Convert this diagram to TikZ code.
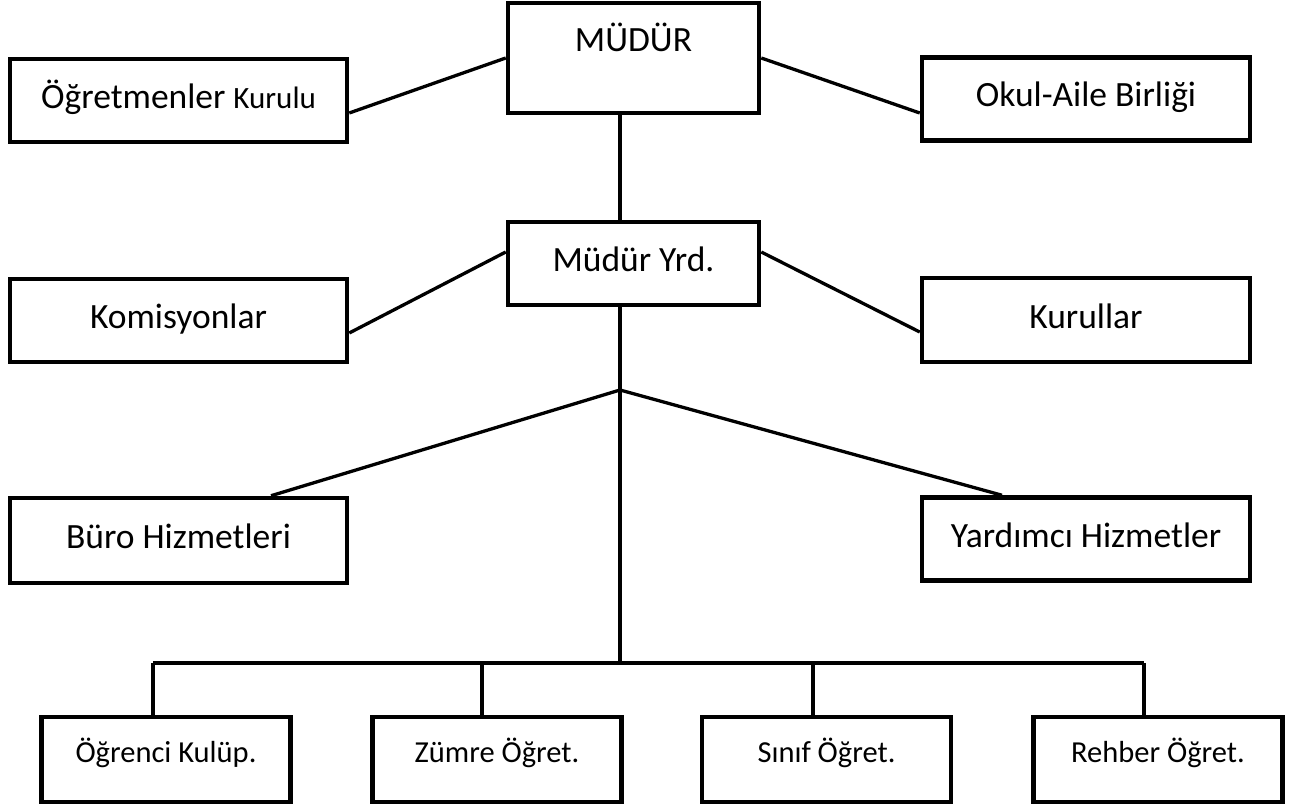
\documentclass[tikz,border=0pt]{standalone}
\usepackage{fontspec}
\setmainfont{Carlito}
\usepackage{tikz}
\usetikzlibrary{positioning}

\begin{document}
\begin{tikzpicture}[
    x=1pt, y=-1pt,
    line width=3.3pt,
    box/.style={rectangle, draw, line width=4.5pt, inner sep=0pt,
      minimum height=83pt, text height=26pt, text depth=10pt,
      font=\fontsize{35.5}{40}\selectfont},
    sidebox/.style={box, minimum width=337pt},
    rightbox/.style={box, minimum width=328pt},
    midbox/.style={box, minimum width=251pt},
    unitbox/.style={box, minimum width=249pt, minimum height=85pt,
      text height=22pt, text depth=17pt,
      font=\fontsize{30.5}{34}\selectfont}
]
  \useasboundingbox (0,0) rectangle (1299,805);

  % nodes
  \node[midbox, minimum height=110pt, text height=25pt, text depth=37pt] (mudur) at (633.5,58) {MÜDÜR};
  \node[midbox] (yrd) at (633.5,263.5) {Müdür Yrd.};

  \node[sidebox] (ogrkurul) at (178.5,100.5) {Öğretmenler {\fontsize{31}{34}\selectfont Kurulu}};
  \node[sidebox] (komisyon) at (178.5,320.5) {Komisyonlar};
  \node[sidebox, minimum height=85pt] (buro) at (178.5,540.5) {Büro Hizmetleri};

  \node[rightbox] (okul) at (1086,99) {Okul-Aile Birliği};
  \node[rightbox, minimum height=84pt] (kurullar) at (1086,320) {Kurullar};
  \node[rightbox] (yardimci) at (1086,539) {Yardımcı Hizmetler};

  \node[unitbox] (k1) at (166,759.5) {Öğrenci Kulüp.};
  \node[unitbox] (k2) at (497,759.5) {Zümre Öğret.};
  \node[unitbox] (k3) at (826.5,759.5) {Sınıf Öğret.};
  \node[unitbox] (k4) at (1158,759.5) {Rehber Öğret.};

  \coordinate (fork) at (620,390);
  \coordinate (bar) at (620,663);
  \coordinate (d1) at (153,663);
  \coordinate (d2) at (482,663);
  \coordinate (d3) at (813,663);
  \coordinate (d4) at (1144,663);

  % edges
  \draw (mudur.west) -- ([yshift=-12.5pt]ogrkurul.east);
  \draw (mudur.east) -- ([yshift=-14pt]okul.west);
  \draw (mudur.south -| fork) -- (yrd.north -| fork);
  \draw ([yshift=11.5pt]yrd.west) -- ([yshift=-12.5pt]komisyon.east);
  \draw ([yshift=11.5pt]yrd.east) -- ([yshift=-12pt]kurullar.west);
  \draw (yrd.south -| fork) -- (bar);
  \draw (fork) -- ([xshift=92.5pt]buro.north);
  \draw (fork) -- ([xshift=-84pt]yardimci.north);
  \draw (d1) -- (d4);
  \foreach \i in {1,...,4}
    \draw (d\i) -- (d\i |- k\i.north);
\end{tikzpicture}
\end{document}
